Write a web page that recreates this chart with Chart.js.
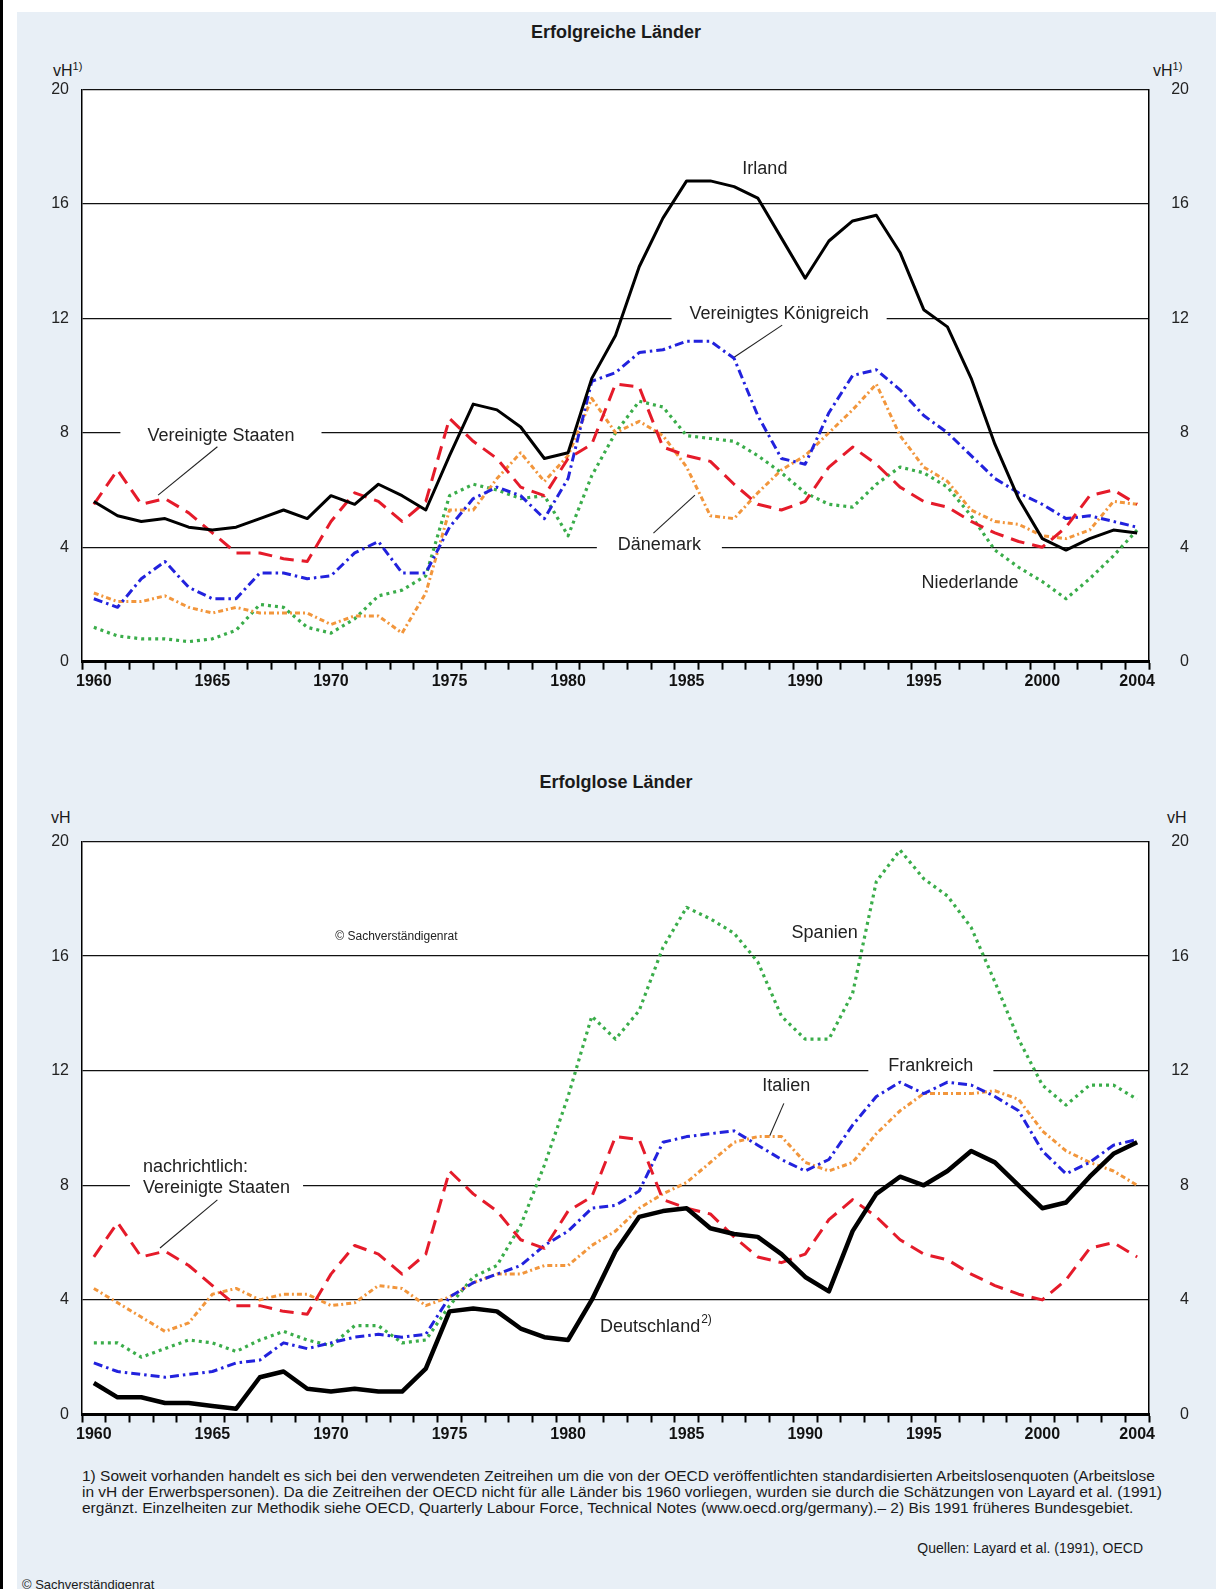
<!DOCTYPE html>
<html>
<head>
<meta charset="utf-8">
<script src="https://cdn.jsdelivr.net/npm/chart.js@4.4.0/dist/chart.umd.min.js"></script>
<style>
html, body { margin: 0; padding: 0; background: #fff; }
body { width: 1216px; height: 1589px; position: relative; overflow: hidden;
       font-family: "Liberation Sans", Arial, sans-serif; color: #1a1a1a; }
#border { position: absolute; left: 0; top: 0; width: 3px; height: 1589px; background: #000; }
#panel { position: absolute; left: 17px; top: 12px; right: 0; bottom: 0; background: #e8eff6; }
.box { position: absolute; left: 0; width: 1216px; height: 700px; }
#box1 { top: 0; }
#box2 { top: 750px; }
.title { position: absolute; left: 8px; width: 1216px; text-align: center; font-weight: bold;
         font-size: 18px; line-height: 20px; }
.unit { position: absolute; font-size: 16px; line-height: 20px; }
.unit sup { font-size: 11px; vertical-align: 6px; line-height: 0; }
#notes { position: absolute; left: 82px; top: 1468px; font-size: 14px; line-height: 16.2px;
         white-space: nowrap; transform-origin: 0 0; }
#source { position: absolute; right: 73px; top: 1540px; font-size: 14px; line-height: 16px; }
#copy { position: absolute; left: 22px; top: 1578px; font-size: 13px; line-height: 14px; }
</style>
</head>
<body>
<div id="border"></div>
<div id="panel"></div>

<div class="title" style="top:22px">Erfolgreiche Länder</div>
<div class="unit" style="left:53px;top:61px">vH<sup>1)</sup></div>
<div class="unit" style="left:1153px;top:61px">vH<sup>1)</sup></div>
<div class="box" id="box1"><canvas id="chart1" width="1216" height="700"></canvas></div>

<div class="title" style="top:772px">Erfolglose Länder</div>
<div class="unit" style="left:51px;top:808px">vH</div>
<div class="unit" style="left:1167px;top:808px">vH</div>
<div class="box" id="box2"><canvas id="chart2" width="1216" height="700"></canvas></div>

<div id="notes">1) Soweit vorhanden handelt es sich bei den verwendeten Zeitreihen um die von der OECD veröffentlichten standardisierten Arbeitslosenquoten (Arbeitslose<br>in vH der Erwerbspersonen). Da die Zeitreihen der OECD nicht für alle Länder bis 1960 vorliegen, wurden sie durch die Schätzungen von Layard et al. (1991)<br>ergänzt. Einzelheiten zur Methodik siehe OECD, Quarterly Labour Force, Technical Notes (www.oecd.org/germany).– 2) Bis 1991 früheres Bundesgebiet.</div>
<div id="source">Quellen: Layard et al. (1991), OECD</div>
<div id="copy">© Sachverständigenrat</div>

<script>
// Years and shown tick labels
const years = [];
for (let y = 1960; y <= 2004; y++) years.push(String(y));
const shownYears = ['1960', '1965', '1970', '1975', '1980', '1985', '1990', '1995', '2000', '2004'];
const yTicks = [0, 4, 8, 12, 16, 20];

// Erfolgreiche Länder (vH)
const irland = [5.6, 5.1, 4.9, 5.0, 4.7, 4.6, 4.7, 5.0, 5.3, 5.0,
                5.8, 5.5, 6.2, 5.8, 5.3, 7.2, 9.0, 8.8, 8.2, 7.1,
                7.3, 9.9, 11.4, 13.8, 15.5, 16.8, 16.8, 16.6, 16.2, 14.8,
                13.4, 14.7, 15.4, 15.6, 14.3, 12.3, 11.7, 9.9, 7.6, 5.7,
                4.3, 3.9, 4.3, 4.6, 4.5];
const usa = [5.5, 6.7, 5.5, 5.7, 5.2, 4.5, 3.8, 3.8, 3.6, 3.5,
             4.9, 5.9, 5.6, 4.9, 5.6, 8.5, 7.7, 7.1, 6.1, 5.8,
             7.1, 7.6, 9.7, 9.6, 7.5, 7.2, 7.0, 6.2, 5.5, 5.3,
             5.6, 6.8, 7.5, 6.9, 6.1, 5.6, 5.4, 4.9, 4.5, 4.2,
             4.0, 4.7, 5.8, 6.0, 5.5];
const uk = [2.2, 1.9, 2.9, 3.5, 2.6, 2.2, 2.2, 3.1, 3.1, 2.9,
            3.0, 3.8, 4.2, 3.1, 3.1, 4.7, 5.7, 6.1, 5.8, 5.0,
            6.4, 9.8, 10.1, 10.8, 10.9, 11.2, 11.2, 10.6, 8.6, 7.1,
            6.9, 8.7, 10.0, 10.2, 9.5, 8.6, 8.0, 7.2, 6.4, 5.9,
            5.5, 5.0, 5.1, 4.9, 4.7];
const daenemark = [2.4, 2.1, 2.1, 2.3, 1.9, 1.7, 1.9, 1.7, 1.7, 1.7,
                   1.3, 1.6, 1.6, 1.0, 2.4, 5.3, 5.3, 6.4, 7.3, 6.3,
                   7.2, 9.2, 8.0, 8.4, 7.9, 6.8, 5.1, 5.0, 5.9, 6.7,
                   7.2, 8.0, 8.8, 9.7, 7.9, 6.8, 6.3, 5.3, 4.9, 4.8,
                   4.4, 4.3, 4.6, 5.6, 5.5];
const niederlande = [1.2, 0.9, 0.8, 0.8, 0.7, 0.8, 1.1, 2.0, 1.9, 1.2,
                     1.0, 1.5, 2.3, 2.5, 3.0, 5.8, 6.2, 6.0, 5.7, 5.8,
                     4.4, 6.5, 8.0, 9.1, 8.9, 7.9, 7.8, 7.7, 7.2, 6.6,
                     5.9, 5.5, 5.4, 6.2, 6.8, 6.6, 6.1, 5.1, 3.9, 3.3,
                     2.8, 2.2, 2.9, 3.7, 4.6];

// Erfolglose Länder (vH)
const deutschland = [1.1, 0.6, 0.6, 0.4, 0.4, 0.3, 0.2, 1.3, 1.5, 0.9,
                     0.8, 0.9, 0.8, 0.8, 1.6, 3.6, 3.7, 3.6, 3.0, 2.7,
                     2.6, 4.0, 5.7, 6.9, 7.1, 7.2, 6.5, 6.3, 6.2, 5.6,
                     4.8, 4.3, 6.4, 7.7, 8.3, 8.0, 8.5, 9.2, 8.8, 8.0,
                     7.2, 7.4, 8.3, 9.1, 9.5];
const spanien = [2.5, 2.5, 2.0, 2.3, 2.6, 2.5, 2.2, 2.6, 2.9, 2.6,
                 2.4, 3.1, 3.1, 2.5, 2.6, 3.8, 4.8, 5.2, 6.6, 8.7,
                 11.1, 13.9, 13.1, 14.1, 16.3, 17.7, 17.3, 16.8, 15.8, 13.9,
                 13.1, 13.1, 14.7, 18.6, 19.7, 18.7, 18.1, 17.0, 15.1, 13.1,
                 11.5, 10.8, 11.5, 11.5, 11.0];
const frankreich = [1.8, 1.5, 1.4, 1.3, 1.4, 1.5, 1.8, 1.9, 2.5, 2.3,
                    2.5, 2.7, 2.8, 2.7, 2.8, 4.1, 4.6, 4.9, 5.2, 5.9,
                    6.4, 7.2, 7.3, 7.8, 9.5, 9.7, 9.8, 9.9, 9.4, 8.9,
                    8.5, 8.9, 10.1, 11.1, 11.6, 11.2, 11.6, 11.5, 11.1, 10.6,
                    9.2, 8.4, 8.8, 9.4, 9.6];
const italien = [4.4, 3.9, 3.4, 2.9, 3.2, 4.2, 4.4, 4.0, 4.2, 4.2,
                 3.8, 3.9, 4.5, 4.4, 3.8, 4.1, 4.6, 4.9, 4.9, 5.2,
                 5.2, 5.9, 6.4, 7.2, 7.7, 8.1, 8.8, 9.5, 9.7, 9.7,
                 8.8, 8.5, 8.8, 9.8, 10.6, 11.2, 11.2, 11.2, 11.3, 11.0,
                 9.9, 9.2, 8.8, 8.5, 8.0];

const FONT = '"Liberation Sans", Arial, sans-serif';
const RED = '#e51b2a', BLUE = '#2222dd', ORANGE = '#f2963c', GREEN = '#3aad4a';

// Labels written into the plots, in year / vH units
const notes1 = [
    { text: 'Irland', year: 1988.3, value: 17.2 },
    { text: 'Vereinigtes Königreich', year: 1988.9, value: 12.15, gap: 18 },
    { text: 'Vereinigte Staaten', year: 1965.36, value: 7.89, gap: 27 },
    { text: 'Dänemark', year: 1983.85, value: 4.08, gap: 21 },
    { text: 'Niederlande', year: 1996.95, value: 2.76 }
];
const leaders1 = [[1989.03, 11.76, 1986.94, 10.6], [1965.21, 7.51, 1962.71, 5.82], [1985.35, 5.82, 1983.6, 4.49]];

const notes2 = [
    { text: '© Sachverständigenrat', year: 1972.76, value: 16.68, size: 12 },
    { text: 'Spanien', year: 1990.82, value: 16.82 },
    { text: 'Frankreich', year: 1995.3, value: 12.16, gap: 20 },
    { text: 'Italien', year: 1989.2, value: 11.47 },
    { text: 'nachrichtlich:', year: 1962.07, value: 8.65, align: 'left' },
    { text: 'Vereinigte Staaten', year: 1962.07, value: 7.92, align: 'left', gap: 13 },
    { text: 'Deutschland', sup: '2)', year: 1981.35, value: 3.06, align: 'left' }
];
const leaders2 = [[1989.1, 10.86, 1988.5, 9.72], [1965.21, 7.49, 1962.79, 5.81]];

// white plot area
const plotBackground = {
    id: 'plotBackground',
    beforeDraw(chart) {
        const { ctx, chartArea: a } = chart;
        ctx.save();
        ctx.fillStyle = '#fff';
        ctx.fillRect(a.left, a.top, a.right - a.left, a.bottom - a.top);
        ctx.restore();
    }
};

// text labels + leader lines, drawn before the series so they only cut the grid lines
const plotLabels = {
    id: 'plotLabels',
    beforeDatasetsDraw(chart, args, opts) {
        const { ctx } = chart;
        const xs = chart.scales.x, ys = chart.scales.y;
        const px = yr => xs.getPixelForValue(yr - 1960);
        ctx.save();
        ctx.textBaseline = 'middle';
        opts.notes.forEach(n => {
            const size = n.size || 18;
            ctx.font = size + 'px ' + FONT;
            let w = ctx.measureText(n.text).width;
            let supW = 0;
            if (n.sup) {
                ctx.font = '12px ' + FONT;
                supW = ctx.measureText(n.sup).width + 1;
                ctx.font = size + 'px ' + FONT;
            }
            const total = w + supW;
            const cx = px(n.year), cy = ys.getPixelForValue(n.value);
            const left = n.align === 'left' ? cx : cx - total / 2;
            if (n.gap) {
                ctx.fillStyle = '#fff';
                ctx.fillRect(left - n.gap, cy - 8, total + 2 * n.gap, 16);
            }
            ctx.fillStyle = '#222';
            ctx.textAlign = 'left';
            ctx.fillText(n.text, left, cy);
            if (n.sup) {
                ctx.font = '12px ' + FONT;
                ctx.fillText(n.sup, left + w + 1, cy - 7);
            }
        });
        ctx.strokeStyle = '#222';
        ctx.lineWidth = 1.1;
        opts.leaders.forEach(l => {
            ctx.beginPath();
            ctx.moveTo(px(l[0]), ys.getPixelForValue(l[1]));
            ctx.lineTo(px(l[2]), ys.getPixelForValue(l[3]));
            ctx.stroke();
        });
        ctx.restore();
    }
};

function series(label, data, color, width, dash) {
    return {
        label: label, data: data, borderColor: color, borderWidth: width, borderDash: dash,
        pointRadius: 0, pointHoverRadius: 0, tension: 0, fill: false,
        borderCapStyle: 'butt', borderJoinStyle: 'round'
    };
}

function makeScales() {
    return {
        x: {
            type: 'category', offset: true,
            grid: { offset: true, drawOnChartArea: false, drawTicks: true, tickLength: 8, tickWidth: 2, tickColor: '#000' },
            border: { color: '#000', width: 3 },
            ticks: {
                autoSkip: false, maxRotation: 0, padding: 2, color: '#111',
                font: { family: FONT, size: 16, weight: 'bold' },
                callback: (v, i) => shownYears.includes(years[i]) ? years[i] : ''
            },
            afterFit: s => { s.height = 30; }
        },
        y: {
            position: 'left', min: 0, max: 20,
            afterBuildTicks: s => { s.ticks = yTicks.map(v => ({ value: v })); },
            grid: { color: '#111', lineWidth: 1.2, drawTicks: false },
            border: { color: '#000', width: 1.5 },
            ticks: { padding: 13, color: '#222', font: { family: FONT, size: 16 } },
            afterFit: s => { s.width = 40; }
        },
        y2: {
            position: 'right', min: 0, max: 20,
            afterBuildTicks: s => { s.ticks = yTicks.map(v => ({ value: v })); },
            grid: { drawOnChartArea: false, drawTicks: false },
            border: { color: '#000', width: 1.5 },
            ticks: { padding: 15, crossAlign: 'far', color: '#222', font: { family: FONT, size: 16 } },
            afterFit: s => { s.width = 40; }
        }
    };
}

function makeChart(id, datasets, padding, notes, leaders) {
    return new Chart(document.getElementById(id), {
        type: 'line',
        data: { labels: years, datasets: datasets },
        options: {
            responsive: false, animation: false, devicePixelRatio: 1,
            layout: { padding: padding },
            scales: makeScales(),
            plugins: {
                legend: { display: false },
                tooltip: { enabled: false },
                plotLabels: { notes: notes, leaders: leaders }
            }
        },
        plugins: [plotBackground, plotLabels]
    });
}

makeChart('chart1', [
    series('Irland', irland, '#000', 3, []),
    series('Vereinigte Staaten', usa, RED, 3, [14, 8]),
    series('Vereinigtes Königreich', uk, BLUE, 3, [9, 4, 2.5, 4]),
    series('Dänemark', daenemark, ORANGE, 3, [5, 3, 2, 3]),
    series('Niederlande', niederlande, GREEN, 3.2, [3, 4])
], { left: 42, right: 27, top: 89.3, bottom: 8.3 }, notes1, leaders1);

makeChart('chart2', [
    series('Deutschland', deutschland, '#000', 4.5, []),
    series('Vereinigte Staaten', usa, RED, 3, [14, 8]),
    series('Frankreich', frankreich, BLUE, 3, [9, 4, 2.5, 4]),
    series('Italien', italien, ORANGE, 3, [5, 3, 2, 3]),
    series('Spanien', spanien, GREEN, 3.2, [3, 4])
], { left: 42, right: 27, top: 91.5, bottom: 5.5 }, notes2, leaders2);

// fit the footnote block to the width used in the original
const notesEl = document.getElementById('notes');
const natural = notesEl.getBoundingClientRect().width;
notesEl.style.transform = 'scaleX(' + (1080 / natural).toFixed(4) + ')';
</script>
</body>
</html>
